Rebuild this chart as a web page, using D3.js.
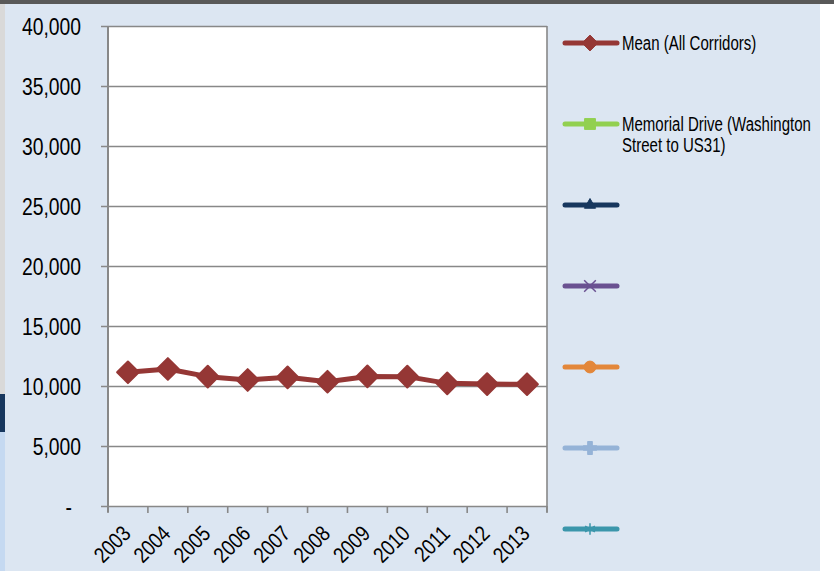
<!DOCTYPE html>
<html>
<head>
<meta charset="utf-8">
<script src="https://cdn.jsdelivr.net/npm/d3@7"></script>
<style>
  body { margin: 0; background: #fff; }
  svg text { font-family: 'Liberation Sans', Arial, sans-serif; fill: #000; }
</style>
</head>
<body>
<svg id="chart" width="834" height="571"></svg>
<script>
const years = ['2003', '2004', '2005', '2006', '2007', '2008', '2009', '2010', '2011', '2012', '2013']
const meanValues = [11140, 11420, 10780, 10500, 10720, 10360, 10800, 10780, 10220, 10160, 10150]
const yTicks = [0, 5000, 10000, 15000, 20000, 25000, 30000, 35000, 40000]
const seriesNames = ['Mean (All Corridors)', 'Memorial Drive (Washington|Street to US31)', '', '', '', '', '']
const seriesColors = ['#953735', '#92d050', '#17375e', '#6a5191', '#e3873a', '#95b3d7', '#3b96ab']
const seriesSymbols = ['diamond', 'square', 'triangle', 'x', 'circle', 'plus', 'star']

// the original uses a narrow face, squeeze the regular one horizontally
function squeeze(sel, k) {
  sel.each(function () {
    const n = this.getComputedTextLength()
    d3.select(this).attr('textLength', n * k).attr('lengthAdjust', 'spacingAndGlyphs')
  })
}

window.addEventListener('load', makeChart)
function makeChart() {
  const svg = d3.select('#chart')

  // panel background and frame bits
  svg.append('rect').attr('width', 820).attr('height', 571).attr('fill', '#dce6f2')
  svg.append('rect').attr('width', 834).attr('height', 4).attr('fill', '#595959')
  svg.append('rect').attr('y', 4).attr('width', 5).attr('height', 390).attr('fill', '#d9d9d9')
  svg.append('rect').attr('y', 394).attr('width', 5).attr('height', 38).attr('fill', '#17375e')
  svg.append('rect').attr('y', 432).attr('width', 5).attr('height', 139).attr('fill', '#c5d9f1')

  const scX = d3.scaleBand().domain(years).range([108, 547])
  const scY = d3.scaleLinear().domain([0, 40000]).range([506, 26])

  svg.append('rect')
    .attr('x', scX.range()[0]).attr('y', scY(40000))
    .attr('width', scX.range()[1] - scX.range()[0])
    .attr('height', scY(0) - scY(40000))
    .attr('fill', '#fff')

  // y gridlines + tick labels
  const yAxis = d3.axisLeft(scY)
    .tickValues(yTicks)
    .tickSize(-(scX.range()[1] - scX.range()[0]))
    .tickPadding(27)
    .tickFormat((d) => (d === 0 ? '-' : d3.format(',')(d)))
  const gy = svg.append('g').attr('transform', 'translate(108,0)').call(yAxis)
  gy.select('.domain').remove()
  gy.selectAll('.tick line').attr('stroke', '#888').attr('stroke-width', 1.6).attr('x1', -7)
  gy.selectAll('.tick text').attr('font-size', 23).attr('dy', '0.35em').attr('font-family', null)
  gy.selectAll('.tick').filter((d) => d === 0).select('text').attr('dx', -9)
  squeeze(gy.selectAll('.tick text'), 0.84)

  // frame lines
  svg.append('line').attr('x1', 108).attr('x2', 108).attr('y1', 26).attr('y2', 512)
    .attr('stroke', '#888').attr('stroke-width', 2)
  svg.append('line').attr('x1', 547).attr('x2', 547).attr('y1', 26).attr('y2', 512)
    .attr('stroke', '#888').attr('stroke-width', 1.6)

  // x ticks at category boundaries
  const bounds = years.map((d) => scX(d)).concat([scX.range()[1]])
  svg.selectAll('line.xt').data(bounds).enter().append('line')
    .attr('class', 'xt')
    .attr('x1', (d) => d).attr('x2', (d) => d)
    .attr('y1', 506).attr('y2', 513)
    .attr('stroke', '#888').attr('stroke-width', 1.6)

  const xl = svg.selectAll('text.xl').data(years).enter().append('text')
    .attr('class', 'xl')
    .attr('font-size', 22)
    .attr('text-anchor', 'end')
    .attr('transform', (d) => `translate(${scX(d) + scX.bandwidth() / 2 + 4},${535}) rotate(-45)`)
    .text((d) => d)
  squeeze(xl, 0.84)

  // mean series
  const cx = (d, i) => scX(years[i]) + scX.bandwidth() / 2
  const line = d3.line().x(cx).y((d) => scY(d))
  svg.append('path').datum(meanValues)
    .attr('d', line)
    .attr('fill', 'none')
    .attr('stroke', seriesColors[0])
    .attr('stroke-width', 5)
    .attr('stroke-linejoin', 'round')

  const diamond = d3.symbol().type(d3.symbolDiamond2).size(300)
  svg.selectAll('path.pt').data(meanValues).enter().append('path')
    .attr('class', 'pt')
    .attr('d', diamond)
    .attr('transform', (d, i) => `translate(${cx(d, i)},${scY(d)})`)
    .attr('fill', seriesColors[0])
    .attr('stroke', seriesColors[0])
    .attr('stroke-width', 2)
    .attr('stroke-linejoin', 'round')

  // legend
  const symbolTypes = {
    diamond: d3.symbolDiamond2,
    square: d3.symbolSquare2,
    triangle: d3.symbolTriangle2,
    x: d3.symbolX,
    circle: d3.symbolCircle,
    plus: d3.symbolCross,
    star: d3.symbolAsterisk,
  }
  const legY = d3.scaleLinear().domain([0, 6]).range([43, 529])
  const leg = svg.selectAll('g.leg').data(seriesNames).enter().append('g')
    .attr('class', 'leg')
    .attr('transform', (d, i) => `translate(0,${legY(i)})`)

  leg.append('line')
    .attr('x1', 565).attr('x2', 617)
    .attr('stroke', (d, i) => seriesColors[i])
    .attr('stroke-width', 5)
    .attr('stroke-linecap', 'round')

  leg.append('path')
    .attr('transform', 'translate(590,0)')
    .attr('d', (d, i) => {
      const t = seriesSymbols[i]
      const size = t === 'diamond' ? 160 : t === 'square' ? 150 : t === 'circle' ? 110 : 90
      return d3.symbol().type(symbolTypes[t]).size(size)()
    })
    .attr('fill', (d, i) => seriesColors[i])
    .attr('stroke', (d, i) => seriesColors[i])
    .attr('stroke-width', (d, i) => (['x', 'plus', 'star'].includes(seriesSymbols[i]) ? 1.5 : 1))
    .attr('stroke-linejoin', 'round')

  leg.each(function (d) {
    const lines = d.split('|').filter((s) => s)
    const t = d3.select(this).append('text')
      .attr('x', 622).attr('y', 0).attr('font-size', 19.5)
    lines.forEach((s, k) => {
      t.append('tspan').attr('x', 622).attr('dy', k === 0 ? '0.35em' : '1.1em').text(s)
    })
    squeeze(t.selectAll('tspan'), 0.77)
  })
}
</script>
</body>
</html>
